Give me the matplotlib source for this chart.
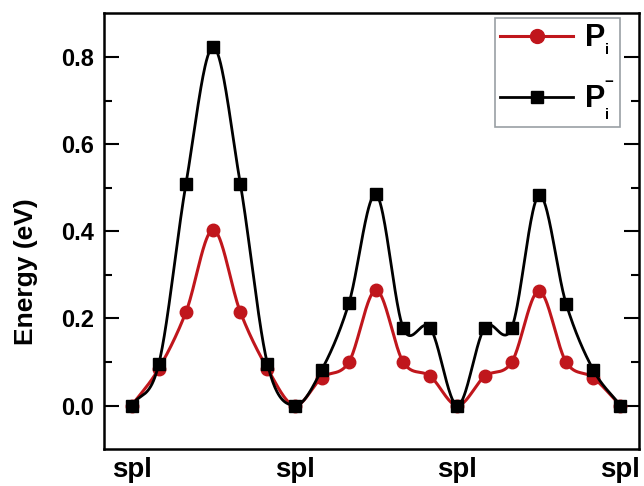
import numpy as np
import matplotlib
matplotlib.use("Agg")
import matplotlib.pyplot as plt

plt.rcParams['font.family'] = ['Liberation Sans', 'DejaVu Sans']
plt.rcParams['font.weight'] = 'bold'
plt.rcParams['mathtext.fontset'] = 'custom'
plt.rcParams['mathtext.rm'] = 'Liberation Sans:bold'
plt.rcParams['mathtext.bf'] = 'Liberation Sans:bold'
plt.rcParams['mathtext.it'] = 'Liberation Sans:bold'

# ── Data ─────────────────────────────────────────────────────────────────────
path_index = np.arange(19)
energy_pi = [0.0, 0.085, 0.215, 0.404, 0.215, 0.085, 0.0,
             0.064, 0.100, 0.265, 0.100, 0.067, 0.0,
             0.067, 0.100, 0.263, 0.100, 0.064, 0.0]
energy_pi_minus = [0.0, 0.096, 0.510, 0.824, 0.510, 0.096, 0.0,
                   0.082, 0.235, 0.485, 0.178, 0.178, 0.0,
                   0.179, 0.179, 0.483, 0.234, 0.082, 0.0]
tick_pos = [0, 6, 12, 18]
tick_labels = ["spl", "spl", "spl", "spl"]

RED = '#c0161c'


def smooth(x, y, n=40):
    """Cubic Hermite (Catmull-Rom) curve through the points."""
    x = np.asarray(x, float)
    y = np.asarray(y, float)
    m = np.gradient(y, x)
    xs, ys = [], []
    for i in range(len(x) - 1):
        t = np.linspace(0, 1, n, endpoint=False)
        h = x[i + 1] - x[i]
        h00 = 2 * t ** 3 - 3 * t ** 2 + 1
        h10 = t ** 3 - 2 * t ** 2 + t
        h01 = -2 * t ** 3 + 3 * t ** 2
        h11 = t ** 3 - t ** 2
        xs.append(x[i] + t * h)
        ys.append(h00 * y[i] + h10 * h * m[i] + h01 * y[i + 1] + h11 * h * m[i + 1])
    xs.append([x[-1]])
    ys.append([y[-1]])
    return np.concatenate(xs), np.concatenate(ys)


fig = plt.figure(figsize=(6.44, 4.86), dpi=100)
ax = fig.add_axes([0.1615, 0.0761, 0.8305, 0.897])

xr, yr = smooth(path_index, energy_pi)
xb, yb = smooth(path_index, energy_pi_minus)

ax.plot(xr, yr, '-', color=RED, lw=2.2, zorder=2)
ax.plot(path_index, energy_pi, 'o', color=RED, ms=9, zorder=3)
ax.plot(xb, yb, '-', color='black', lw=2.0, zorder=4)
ax.plot(path_index, energy_pi_minus, 's', color='black', ms=8, zorder=5)

# legend proxies
h1, = ax.plot([], [], '-o', color=RED, lw=2.2, ms=10)
h2, = ax.plot([], [], '-s', color='black', lw=2.0, ms=8)
leg = ax.legend([h1, h2], [r'$\mathrm{P}_{_{\mathrm{i}}}$', r'$\mathrm{P}_{_{\mathrm{i}}}^{^{-}}$'],
                loc='upper right', bbox_to_anchor=(0.964, 0.989),
                fontsize=22, handlelength=2.4, handletextpad=0.35,
                borderpad=0.15, labelspacing=0.75, borderaxespad=0.0,
                fancybox=False, framealpha=1)
leg.get_frame().set_edgecolor('#9aa0a4')
leg.get_frame().set_linewidth(1.2)

ax.set_xlim(-1.02, 18.68)
ax.set_ylim(-0.1, 0.902)
ax.set_xticks(tick_pos)
ax.set_xticklabels(tick_labels)
ax.set_yticks([0.0, 0.2, 0.4, 0.6, 0.8])
ax.set_yticks(np.arange(0.0, 0.85, 0.1), minor=True)
ax.yaxis.set_major_formatter(matplotlib.ticker.FormatStrFormatter('%.1f'))

ax.tick_params(axis='x', length=0, pad=6, labelsize=20)
ax.tick_params(axis='y', which='major', direction='in', length=11, width=1.5,
               labelsize=17, pad=7, right=True)
ax.tick_params(axis='y', which='minor', direction='in', length=6, width=1.5, right=True)
for s in ax.spines.values():
    s.set_linewidth(1.8)

ax.set_ylabel('Energy (eV)', fontsize=19, fontweight='bold')
ax.yaxis.set_label_coords(-0.123, 0.406)

fig.savefig('out.png', dpi=100)
